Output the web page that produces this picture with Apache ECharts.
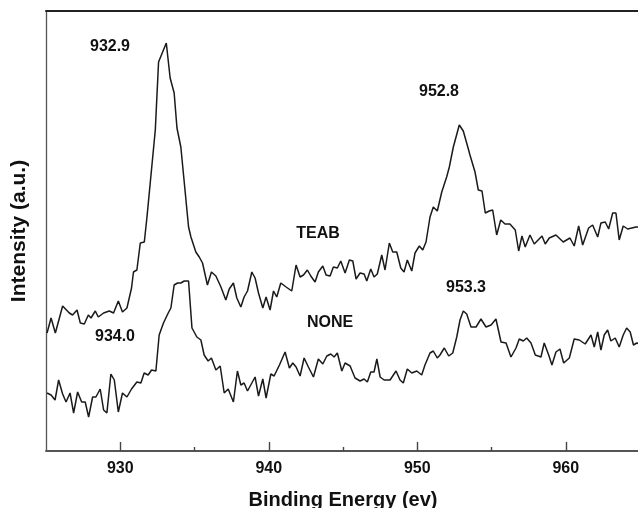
<!DOCTYPE html>
<html>
<head>
<meta charset="utf-8">
<script src="https://cdn.jsdelivr.net/npm/echarts@6/dist/echarts.min.js"></script>
<style>
  html, body { margin: 0; padding: 0; background: #fff; }
  #chart { width: 638px; height: 508px; }
</style>
</head>
<body>
<div id="chart"></div>
<script>
// XPS Cu 2p spectra (intensity in arbitrary units)
const teabEnergy = [
  925.07, 925.34, 925.63, 926.12, 926.57, 926.79, 927.09, 927.31, 927.58, 927.85,
  928.03, 928.32, 928.52, 928.88, 929.26, 929.55, 929.87, 930.15, 930.45, 930.76,
  930.89, 931.12, 931.35, 931.62, 931.80, 932.36, 932.58, 933.10, 933.36, 933.63,
  933.82, 934.08, 934.60, 934.76, 935.09, 935.32, 935.54, 935.87, 936.14, 936.44,
  936.78, 937.11, 937.34, 937.62, 937.85, 938.12, 938.34, 938.57, 938.86, 939.08,
  939.31, 939.60, 939.82, 940.09, 940.32, 940.54, 940.81, 941.17, 941.55, 941.84,
  942.11, 942.34, 942.60, 942.83, 943.12, 943.34, 943.64, 943.86, 944.13, 944.35,
  944.62, 944.85, 945.14, 945.43, 945.66, 945.88, 946.15, 946.42, 946.60, 946.87,
  947.09, 947.31, 947.61, 947.83, 948.12, 948.35, 948.62, 948.89, 949.11, 949.33,
  949.63, 949.85, 950.14, 950.37, 950.59, 950.86, 951.08, 951.35, 951.65, 951.98,
  952.16, 952.43, 952.83, 953.10, 953.46, 953.55, 953.89, 954.11, 954.36, 954.58,
  954.85, 955.08, 955.35, 955.62, 955.91, 956.24, 956.60, 956.83, 957.05, 957.27,
  957.59, 957.88, 958.40, 958.62, 958.89, 959.34, 959.83, 960.28, 960.57, 960.87,
  961.14, 961.54, 961.81, 962.15, 962.37, 962.66, 962.89, 963.16, 963.38, 963.60,
  963.87, 964.17, 964.73, 965.00
];
const teabIntensity = [
  118, 133, 118, 145, 138, 136, 141, 128, 127, 136,
  133, 140, 134, 138, 140, 138, 150, 139, 143, 163,
  179, 181, 208, 209, 234, 321, 389, 408, 373, 358,
  323, 304, 224, 214, 199, 194, 188, 166, 179, 175,
  164, 151, 162, 168, 153, 144, 154, 160, 179, 173,
  158, 143, 154, 141, 160, 154, 168, 164, 160, 186,
  174, 176, 181, 175, 169, 179, 185, 176, 175, 184,
  183, 190, 178, 191, 190, 172, 178, 177, 170, 182,
  174, 177, 196, 181, 208, 199, 199, 183, 179, 191,
  180, 198, 205, 201, 209, 234, 244, 240, 259, 274,
  284, 304, 326, 320, 301, 296, 279, 261, 260, 238,
  240, 241, 216, 231, 227, 227, 221, 200, 215, 204,
  216, 207, 215, 207, 213, 216, 209, 213, 205, 225,
  206, 223, 226, 214, 228, 229, 222, 238, 238, 211,
  225, 222, 224, 224
];

const noneEnergy = [
  925.07, 925.34, 925.61, 925.85, 926.12, 926.35, 926.62, 926.86, 927.13, 927.40,
  927.64, 927.87, 928.14, 928.36, 928.65, 928.88, 929.10, 929.37, 929.60, 929.87,
  930.15, 930.45, 930.76, 931.12, 931.39, 931.61, 931.88, 932.11, 932.40, 932.62,
  932.91, 933.23, 933.41, 933.63, 933.86, 934.08, 934.31, 934.60, 934.83, 935.16,
  935.43, 935.65, 935.92, 936.14, 936.44, 936.73, 937.00, 937.27, 937.62, 937.89,
  938.12, 938.34, 938.57, 939.08, 939.31, 939.60, 939.82, 940.14, 940.36, 940.72,
  941.10, 941.39, 941.62, 941.84, 942.11, 942.38, 942.67, 943.01, 943.34, 943.64,
  943.91, 944.18, 944.40, 944.62, 944.92, 945.14, 945.48, 945.81, 946.15, 946.42,
  946.64, 946.87, 947.09, 947.28, 947.50, 947.77, 948.17, 948.57, 948.84, 949.06,
  949.33, 949.63, 949.97, 950.30, 950.52, 950.86, 951.08, 951.35, 951.53, 951.82,
  952.12, 952.39, 952.66, 952.88, 953.10, 953.33, 953.62, 953.96, 954.29, 954.63,
  954.97, 955.30, 955.64, 955.98, 956.31, 956.65, 956.87, 957.14, 957.37, 957.66,
  957.95, 958.33, 958.55, 958.85, 959.07, 959.34, 959.61, 959.86, 960.24, 960.57,
  960.91, 961.31, 961.70, 961.92, 962.15, 962.37, 962.59, 962.82, 963.04, 963.33,
  963.60, 963.87, 964.10, 964.34, 964.56, 964.78, 965.00
];
const noneIntensity = [
  58, 56, 51, 71, 57, 49, 58, 38, 59, 49,
  49, 34, 54, 54, 62, 41, 38, 77, 71, 39,
  58, 54, 62, 69, 68, 78, 76, 81, 80, 116,
  128, 138, 143, 166, 168, 168, 170, 170, 123, 114,
  111, 96, 90, 93, 81, 85, 58, 62, 49, 80,
  66, 68, 60, 74, 55, 72, 53, 77, 75, 86,
  99, 83, 88, 84, 75, 93, 84, 74, 92, 87,
  95, 97, 94, 98, 80, 88, 85, 73, 70, 72,
  69, 79, 79, 92, 74, 71, 71, 80, 71, 68,
  82, 78, 80, 76, 86, 98, 100, 93, 96, 103,
  95, 98, 114, 131, 140, 137, 124, 124, 132, 124,
  126, 132, 109, 108, 94, 103, 112, 110, 113, 108,
  96, 94, 108, 96, 86, 99, 102, 88, 93, 112,
  111, 107, 116, 104, 119, 101, 116, 121, 110, 113,
  104, 116, 123, 119, 106, 108, 107
];

const majorTicks = [930, 940, 950, 960];
const minorTicks = [935, 945, 955];

const peakLabels = ['932.9', '952.8', '934.0', '953.3'];
const seriesNames = ['TEAB', 'NONE'];

const pairs = (xs, ys) => xs.map((x, i) => [x, ys[i]]);

const FONT = '"Liberation Sans", Arial, sans-serif';
const textEl = (text, x, y, size) => ({
  type: 'text',
  x: x,
  y: y,
  style: {
    text: text,
    fill: '#111',
    font: 'bold ' + size + 'px ' + FONT,
    align: 'center',
    verticalAlign: 'middle'
  }
});

const chart = echarts.init(document.getElementById('chart'));

const baseX = { type: 'value', min: 925, max: 965, splitLine: { show: false } };

chart.setOption({
  animation: false,
  backgroundColor: '#fff',
  grid: { left: 46, top: 11, right: -2, bottom: 57, outerBoundsMode: 'none' },
  xAxis: [
    Object.assign({}, baseX, {
      position: 'bottom',
      name: 'Binding Energy (ev)',
      nameLocation: 'middle',
      nameGap: 39,
      nameTextStyle: { fontFamily: FONT, fontWeight: 'bold', fontSize: 20, color: '#111' },
      axisLine: { lineStyle: { color: '#555', width: 1.8 } },
      axisTick: { inside: true, length: 9, customValues: majorTicks, lineStyle: { color: '#444', width: 1.4 } },
      axisLabel: { customValues: majorTicks, margin: 10, fontFamily: FONT, fontWeight: 'bold', fontSize: 16, color: '#111' }
    }),
    Object.assign({}, baseX, {
      position: 'bottom',
      axisLine: { show: false },
      axisTick: { inside: true, length: 4, customValues: minorTicks, lineStyle: { color: '#444', width: 1.4 } },
      axisLabel: { show: false }
    }),
    Object.assign({}, baseX, {
      position: 'top',
      axisLine: { lineStyle: { color: '#222', width: 2 } },
      axisTick: { show: false },
      axisLabel: { show: false }
    })
  ],
  yAxis: {
    type: 'value',
    min: 0,
    max: 440,
    name: 'Intensity (a.u.)',
    nameLocation: 'middle',
    nameGap: 16,
    nameTextStyle: { fontFamily: FONT, fontWeight: 'bold', fontSize: 21, color: '#111' },
    axisLine: { show: true, lineStyle: { color: '#555', width: 1.3 } },
    axisTick: { show: false },
    axisLabel: { show: false },
    splitLine: { show: false }
  },
  series: [
    {
      name: seriesNames[0],
      type: 'line',
      xAxisIndex: 0,
      showSymbol: false,
      data: pairs(teabEnergy, teabIntensity),
      lineStyle: { color: '#1a1a1a', width: 1.5 }
    },
    {
      name: seriesNames[1],
      type: 'line',
      xAxisIndex: 0,
      showSymbol: false,
      data: pairs(noneEnergy, noneIntensity),
      lineStyle: { color: '#1a1a1a', width: 1.5 }
    }
  ],
  graphic: [
    textEl(peakLabels[0], 110, 47, 16),
    textEl(peakLabels[1], 439, 92, 16),
    textEl(seriesNames[0], 318, 234, 16),
    textEl(seriesNames[1], 330, 323, 16),
    textEl(peakLabels[2], 115, 337, 16),
    textEl(peakLabels[3], 466, 288, 16)
  ]
});
</script>
</body>
</html>
